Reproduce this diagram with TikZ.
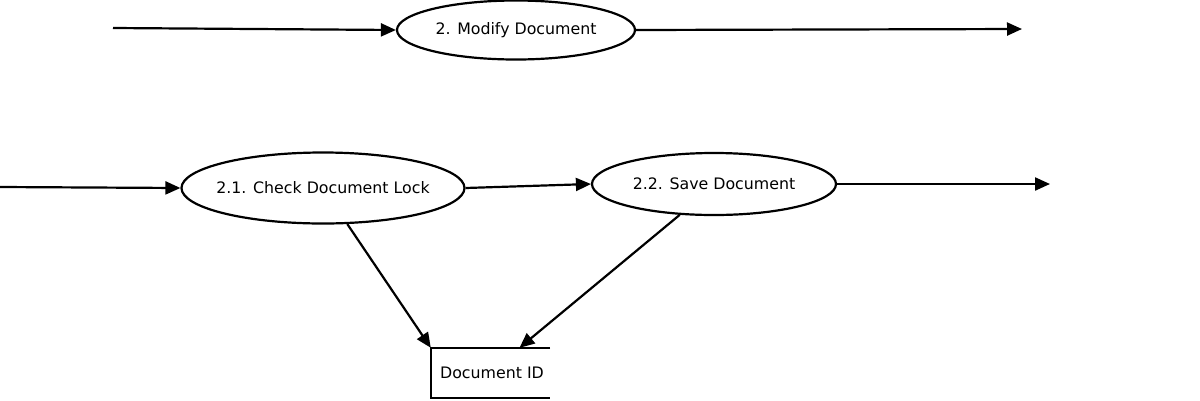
\documentclass[tikz,border=0pt]{standalone}
\usepackage{fontspec}
\setmainfont{DejaVu Sans}
\usetikzlibrary{shapes.geometric,arrows.meta,calc}
\begin{document}
\begin{tikzpicture}[x=1pt,y=-1pt,
  proc/.style={ellipse,draw=black,line width=2.2pt,inner sep=0pt,fill=white},
  flow/.style={line width=2.2pt,-{Triangle[length=15pt,width=13pt]}},
  every node/.style={font=\fontsize{15.8}{18}\selectfont}]
\useasboundingbox (0,0) rectangle (1200,400);
\fill[white] (0,0) rectangle (1200,400);
% top level
\node[proc,minimum width=238pt,minimum height=59pt] (m) at (516,30) {\makebox[0pt]{\raisebox{-1.5pt}{2. Modify Document}}};
\coordinate (min) at (113,28);
\coordinate (mout) at (1022,29);
\draw[flow] (min) -- (m.west);
\draw[flow] (m.east) -- (mout);
% second level
\node[proc,minimum width=283pt,minimum height=71pt] (c) at (323,188) {\makebox[0pt]{\raisebox{-1pt}{2.1. Check Document Lock}}};
\node[proc,minimum width=244pt,minimum height=62pt] (s) at (714,184) {\makebox[0pt]{2.2. Save Document}};
\node[minimum width=119pt,minimum height=50pt,inner sep=0pt] (ds) at (490.5,373) {\makebox[0pt]{\hspace{3pt}\raisebox{-1pt}{Document ID}}};
\draw[line width=2.2pt] (ds.north east) -- (ds.north west) -- (ds.south west) -- (ds.south east);
\coordinate (cin) at (0,187);
\coordinate (sout) at (1050,184);
\draw[flow] (cin) -- (c.west);
\draw[flow] (c.east) -- (s.west);
\draw[flow] (s.east) -- (sout);
\draw[flow] (c.-56) -- (ds.north west);
\draw[flow] (s.-138.5) -- ($(ds.north)+(29,0)$);
\end{tikzpicture}
\end{document}
